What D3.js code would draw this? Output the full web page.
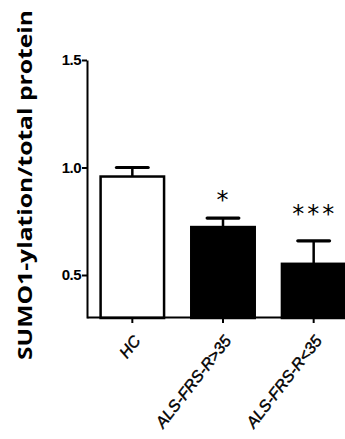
<!DOCTYPE html>
<html>
<head>
<meta charset="utf-8">
<script src="https://cdn.jsdelivr.net/npm/d3@7"></script>
<style>
  body { margin: 0; background: #fff; }
  svg { display: block; }
</style>
</head>
<body>
<div id="chart"></div>
<script>
// groups and values
var categories = ["HC", "ALS-FRS-R>35", "ALS-FRS-R<35"];
var means = [0.958, 0.723, 0.552];
var sems = [0.042, 0.042, 0.107];
var fills = ["#ffffff", "#000000", "#000000"];
var sigLabels = ["", "*", "***"];
var sigY = [null, 0.85, 0.785];
var yTicks = [0.5, 1.0, 1.5];

var width = 345, height = 439;

var svg = d3.select('#chart').append('svg')
    .attr('width', width)
    .attr('height', height)
    .style('background', '#fff');

var yScale = d3.scaleLinear()
    .domain([0.3, 1.5])
    .range([318, 60]);

var xScale = d3.scaleBand()
    .domain(categories)
    .range([87, 359])
    .paddingInner(0.3)
    .paddingOuter(0.15);

// bars
svg.append('g').selectAll('rect')
    .data(categories)
    .enter().append('rect')
    .attr('x', function (d) { return xScale(d); })
    .attr('width', xScale.bandwidth())
    .attr('y', function (d, i) { return yScale(means[i]); })
    .attr('height', function (d, i) { return yScale(0.3) - yScale(means[i]); })
    .attr('fill', function (d, i) { return fills[i]; })
    .attr('stroke', '#000')
    .attr('stroke-width', 2.5);

// error bars (upper only)
var err = svg.append('g').selectAll('g')
    .data(categories)
    .enter().append('g');

err.append('line')
    .attr('x1', function (d) { return xScale(d) + xScale.bandwidth() / 2; })
    .attr('x2', function (d) { return xScale(d) + xScale.bandwidth() / 2; })
    .attr('y1', function (d, i) { return yScale(means[i]); })
    .attr('y2', function (d, i) { return yScale(means[i] + sems[i]); })
    .attr('stroke', '#000')
    .attr('stroke-width', 2.5);

err.append('line')
    .attr('x1', function (d) { return xScale(d) + xScale.bandwidth() * 0.25; })
    .attr('x2', function (d) { return xScale(d) + xScale.bandwidth() * 0.75; })
    .attr('y1', function (d, i) { return yScale(means[i] + sems[i]); })
    .attr('y2', function (d, i) { return yScale(means[i] + sems[i]); })
    .attr('stroke', '#000')
    .attr('stroke-width', 3.2)
    .attr('stroke-linecap', 'round');

// significance stars
svg.append('g').selectAll('text')
    .data(categories)
    .enter().append('text')
    .filter(function (d, i) { return sigLabels[i] !== ""; })
    .attr('x', function (d) { return xScale(d) + xScale.bandwidth() / 2 + 1; })
    .attr('y', function (d) { var i = categories.indexOf(d); return yScale(sigY[i]); })
    .attr('dy', '0.36em')
    .attr('text-anchor', 'middle')
    .style('font-family', 'DejaVu Sans')
    .style('font-size', '24px')
    .style('letter-spacing', '3px')
    .text(function (d) { return sigLabels[categories.indexOf(d)]; });

// y axis
var yAxis = d3.axisLeft(yScale)
    .tickValues(yTicks)
    .tickFormat(d3.format('.1f'))
    .tickSize(5)
    .tickSizeOuter(0);

var yg = svg.append('g')
    .attr('transform', 'translate(87,0)')
    .call(yAxis);
yg.select('.domain').attr('stroke-width', 2);
yg.selectAll('.tick line').attr('stroke-width', 2);
yg.selectAll('.tick text')
    .attr('x', -6)
    .style('font-family', '"Liberation Sans Narrow", "Liberation Sans", sans-serif')
    .style('font-weight', 'bold')
    .style('font-size', '15px')
    .style('letter-spacing', '-0.5px');

// x axis
var xAxis = d3.axisBottom(xScale)
    .tickSize(6)
    .tickSizeOuter(0);

var xg = svg.append('g')
    .attr('transform', 'translate(0,317)')
    .call(xAxis);
xg.select('.domain').attr('stroke-width', 2);
xg.selectAll('.tick line').attr('stroke-width', 2);
xg.selectAll('.tick text')
    .attr('y', 0)
    .attr('dy', 0)
    .attr('text-anchor', 'end')
    .attr('transform', 'translate(9,24) rotate(-52)')
    .attr('stroke', '#000')
    .attr('stroke-width', 0.45)
    .style('font-family', '"Liberation Sans", Arial, sans-serif')
    .style('font-style', 'italic')
    .style('font-size', '16px');

// y title
svg.append('text')
    .attr('transform', 'translate(32,185) rotate(-90)')
    .attr('text-anchor', 'middle')
    .attr('textLength', 350)
    .attr('lengthAdjust', 'spacingAndGlyphs')
    .style('font-family', '"Open Sans", sans-serif')
    .style('font-weight', 'bold')
    .style('font-size', '20px')
    .text('SUMO1-ylation/total protein');
</script>
</body>
</html>
